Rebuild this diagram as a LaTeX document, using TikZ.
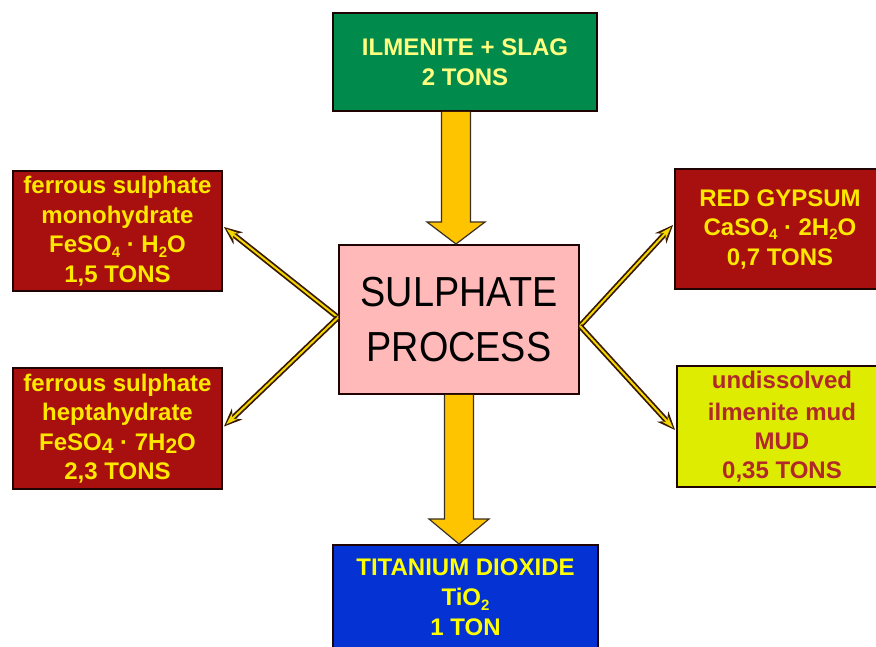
\documentclass[tikz,border=0pt]{standalone}
\usepackage{fontspec}
\setmainfont{Liberation Sans}
\usetikzlibrary{calc,arrows.meta}
\definecolor{boxline}{HTML}{200404}
\definecolor{gfill}{HTML}{008A4B}
\definecolor{gtext}{HTML}{FFFF80}
\definecolor{rfill}{HTML}{A80F0F}
\definecolor{ytext}{HTML}{FFE800}
\definecolor{pfill}{HTML}{FFB9B9}
\definecolor{bfill}{HTML}{0532D2}
\definecolor{btext}{HTML}{FFFF00}
\definecolor{lfill}{HTML}{DDEC00}
\definecolor{ltext}{HTML}{B0282A}
\definecolor{afill}{HTML}{FFC400}
\definecolor{aline}{HTML}{3A3020}
\definecolor{dline}{HTML}{3A1800}
\definecolor{dcore}{HTML}{F2D800}
\newcommand{\sbs}[1]{\raisebox{-0.35ex}{\fontsize{15}{15}\selectfont #1}}
\newcommand{\sbl}[1]{\raisebox{-0.25ex}{\fontsize{21}{21}\selectfont #1}}
\tikzset{
  x=1pt, y=1pt,
  box/.style={draw=boxline, line width=2pt, inner sep=0pt, align=center,
    font=\bfseries\fontsize{24}{29.5}\selectfont},
  redbox/.style={box, fill=rfill, text=ytext},
  blockarrow/.style={fill=afill, draw=aline, line width=1.2pt, line join=miter},
  diagout/.style={draw=dline, line width=5.5pt, -{Stealth[length=18pt,width=15pt,inset=6pt]}},
  diagin/.style={draw=dcore, line width=2pt, shorten >=3pt, -{Stealth[length=12pt,width=8pt,inset=4pt]}}
}
\begin{document}
\begin{tikzpicture}
\useasboundingbox (0,0) rectangle (876,646);
\clip (0,0) rectangle (876,646);
\fill[white] (0,0) rectangle (876,646);

\node[box, fill=gfill, text=gtext, minimum width=264, minimum height=98,
  font=\bfseries\fontsize{24}{30}\selectfont] (top) at (465,584) {ILMENITE + SLAG\\2 TONS};
\node[box, fill=pfill, text=black, minimum width=240, minimum height=149,
  font=\fontsize{42}{55}\selectfont] (proc) at (459,326.5)
  {\scalebox{0.9}[1]{SULPHATE}\\\scalebox{0.9}[1]{PROCESS}};
\node[redbox, minimum width=209, minimum height=120] (lt) at (117.5,415)
  {ferrous sulphate\\monohydrate\\FeSO\sbs{4} · H\sbs{2}O\\1,5 TONS};
\node[redbox, minimum width=209, minimum height=121] (lb) at (117.5,217.5)
  {ferrous sulphate\\heptahydrate\\FeSO\sbl{4} · 7H\sbl{2}O\\2,3 TONS};
\node[redbox, minimum width=210, minimum height=120] (rt) at (780,417)
  {RED GYPSUM\\CaSO\sbs{4} · 2H\sbs{2}O\\0,7 TONS};
\node[box, fill=lfill, text=ltext, minimum width=210, minimum height=121,
  font=\bfseries\fontsize{24}{29}\selectfont] (rb) at (782,219.5)
  {\raisebox{3pt}{undissolved}\\ilmenite mud\\MUD\\0,35 TONS};
\node[box, fill=bfill, text=btext, minimum width=265, minimum height=105,
  font=\bfseries\fontsize{24}{30}\selectfont] (bot) at (465.5,48.5)
  {TITANIUM DIOXIDE\\TiO\sbs{2}\\1 TON};

% block arrow top -> process
\coordinate (t1) at ($(top.south)+(-9,0)$);
\coordinate (t2) at (t1 |- proc.north);
\draw[blockarrow] ($(t1)+(-14.5,0)$) -- ($(t2)+(-14.5,22)$) -- ($(t2)+(-29,22)$) -- (t2)
  -- ($(t2)+(29,22)$) -- ($(t2)+(14.5,22)$) -- ($(t1)+(14.5,0)$);
% block arrow process -> bottom
\coordinate (b1) at (proc.south);
\coordinate (b2) at (b1 |- bot.north);
\draw[blockarrow] ($(b1)+(-14.5,0)$) -- ($(b2)+(-14.5,25)$) -- ($(b2)+(-30,25)$) -- (b2)
  -- ($(b2)+(30,25)$) -- ($(b2)+(14.5,25)$) -- ($(b1)+(14.5,0)$);

% diagonal arrows
\coordinate (pl) at ($(proc.west)+(0,2)$);
\coordinate (pr) at ($(proc.east)+(0,-6.5)$);
\coordinate (elt) at ($(lt.east)+(1,4)$);
\coordinate (elb) at ($(lb.east)+(1,2)$);
\coordinate (ert) at ($(rt.west)+(-1,4)$);
\coordinate (erb) at ($(rb.west)+(-1,-3.5)$);
\foreach \s/\e in {pl/elt, pl/elb, pr/ert, pr/erb}{
  \draw[diagout] (\s) -- (\e);
  \draw[diagin] (\s) -- (\e);
}
\end{tikzpicture}
\end{document}
